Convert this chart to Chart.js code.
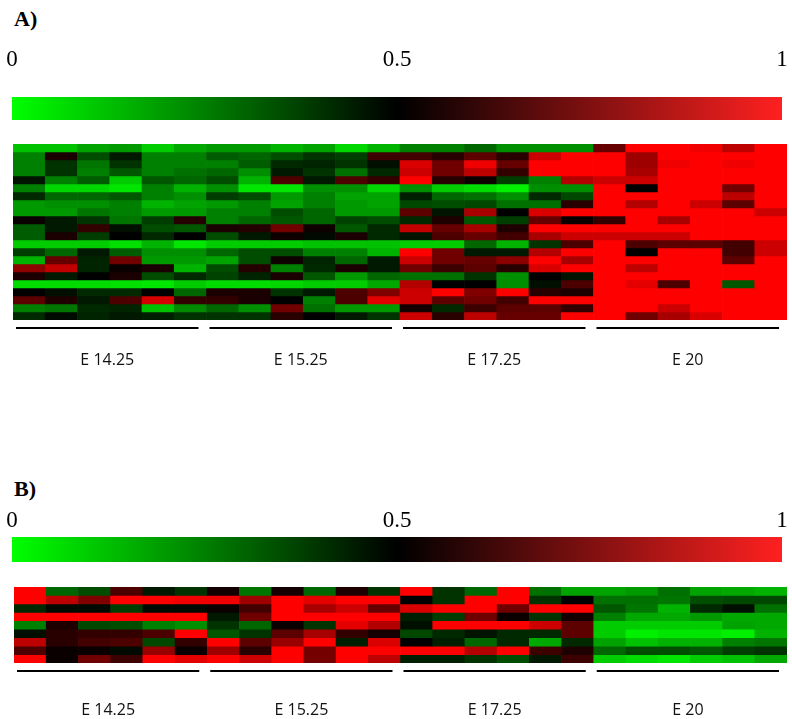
<!DOCTYPE html>
<html>
<head>
<meta charset="utf-8">
<title>Heatmaps</title>
<script src="https://cdn.jsdelivr.net/npm/chart.js@4.4.1/dist/chart.umd.min.js"></script>
<style>
  body { margin: 0; background: #fff; }
  #page { position: relative; width: 792px; height: 719px; overflow: hidden; }
  .panel-title { position: absolute; left: 14px; font: bold 22px "Liberation Serif", "Times New Roman", serif; }
  canvas { position: absolute; left: 0; }
</style>
</head>
<body>
<div id="page">
  <div class="panel-title" style="top:6px">A)</div>
  <canvas id="barA" width="792" height="105" style="top:20px"></canvas>
  <canvas id="heatA" width="792" height="240" style="top:140px"></canvas>

  <div class="panel-title" style="top:476px">B)</div>
  <canvas id="barB" width="792" height="67" style="top:500px"></canvas>
  <canvas id="heatB" width="792" height="136" style="top:583px"></canvas>
</div>
<script>
// columns = samples, 6 per embryonic stage
const columnLabels = Array.from({length: 24}, (_, i) => 'S' + (i + 1));
const groupNames = ['E 14.25', 'E 15.25', 'E 17.25', 'E 20'];
const perGroup = 6;
const scaleTicks = [0, 0.5, 1];

// panel A, one row per gene (values 0..1)
const heatA = [
  [0.12,0.12,0.18,0.2,0.1,0.17, 0.2,0.2,0.15,0.18,0.08,0.15, 0.25,0.25,0.3,0.22,0.22,0.22, 0.7,1,1,0.97,0.87,1],
  [0.25,0.55,0.35,0.45,0.25,0.25, 0.32,0.3,0.35,0.4,0.38,0.62, 0.63,0.58,0.68,0.58,0.9,1, 1,0.81,1,1,1,1],
  [0.25,0.4,0.27,0.4,0.25,0.25, 0.25,0.32,0.42,0.43,0.4,0.47, 0.93,0.72,0.97,0.7,1,1, 1,0.81,0.97,1,0.97,1],
  [0.25,0.4,0.25,0.33,0.25,0.28, 0.3,0.22,0.45,0.4,0.28,0.42, 0.9,0.72,0.87,0.6,1,1, 1,0.83,1,1,1,1],
  [0.46,0.25,0.32,0.1,0.33,0.3, 0.35,0.15,0.65,0.45,0.65,0.6, 1,0.58,0.53,0.38,0.25,0.85, 0.9,0.9,1,1,1,1],
  [0.25,0.08,0.08,0.05,0.25,0.15, 0.22,0.05,0.05,0.22,0.22,0.08, 0.22,0.1,0.07,0.03,0.22,0.22, 1,0.5,1,1,0.72,1],
  [0.42,0.3,0.3,0.33,0.25,0.22, 0.38,0.35,0.2,0.25,0.18,0.18, 0.44,0.3,0.28,0.22,0.42,0.36, 1,1,1,1,0.87,1],
  [0.2,0.22,0.22,0.25,0.15,0.18, 0.2,0.25,0.18,0.25,0.2,0.18, 0.36,0.35,0.36,0.28,0.28,0.58, 1,0.85,1,0.9,0.68,1],
  [0.2,0.2,0.27,0.25,0.2,0.2, 0.25,0.25,0.35,0.3,0.2,0.2, 0.68,0.46,0.83,0.5,0.93,1, 1,1,1,1,1,0.9],
  [0.52,0.45,0.4,0.27,0.38,0.57, 0.25,0.3,0.33,0.3,0.37,0.35, 0.42,0.56,0.33,0.38,0.7,0.52, 0.6,1,0.83,1,1,1],
  [0.32,0.45,0.6,0.47,0.35,0.33, 0.55,0.57,0.72,0.53,0.33,0.42, 0.88,0.7,0.83,0.56,1,1, 1,1,1,1,1,1],
  [0.32,0.55,0.38,0.5,0.42,0.5, 0.35,0.45,0.53,0.48,0.55,0.42, 0.46,0.65,0.7,0.63,0.83,0.9, 0.9,0.9,0.9,1,1,1],
  [0.1,0.1,0.1,0.06,0.15,0.05, 0.1,0.1,0.1,0.12,0.12,0.12, 0.1,0.1,0.3,0.15,0.4,0.65, 1,0.65,0.68,0.68,0.63,0.9],
  [0.38,0.3,0.45,0.32,0.22,0.22, 0.3,0.35,0.35,0.25,0.25,0.15, 1,0.72,0.45,0.45,0.85,1, 1,0.5,1,1,0.63,0.9],
  [0.15,0.7,0.43,0.72,0.2,0.2, 0.18,0.35,0.53,0.43,0.3,0.45, 0.9,0.72,0.7,0.77,1,0.83, 1,1,1,1,0.68,1],
  [0.78,0.88,0.43,0.52,0.55,0.15, 0.35,0.57,0.25,0.42,0.55,0.45, 0.72,0.62,0.68,0.58,0.93,1, 1,0.87,1,1,1,1],
  [0.55,0.45,0.5,0.55,0.35,0.42, 0.37,0.43,0.55,0.33,0.2,0.3, 0.28,0.28,0.4,0.22,0.5,0.46, 1,1,1,1,1,1],
  [0.07,0.07,0.07,0.06,0.05,0.1, 0.07,0.07,0.08,0.1,0.1,0.17, 0.85,0.5,0.5,0.22,0.47,0.65, 1,0.95,0.65,1,0.33,1],
  [0.5,0.47,0.42,0.42,0.5,0.3, 0.55,0.55,0.4,0.45,0.65,0.75, 0.9,1,0.75,1,0.58,0.56, 1,1,1,1,1,1],
  [0.68,0.56,0.45,0.65,0.92,0.6, 0.6,0.55,0.5,0.25,0.65,0.95, 0.9,0.68,0.72,0.63,1,1, 1,1,1,1,1,1],
  [0.25,0.27,0.42,0.43,0.12,0.23, 0.3,0.22,0.72,0.28,0.2,0.2, 0.54,0.42,0.62,0.68,0.68,0.6, 1,1,0.9,1,1,1],
  [0.42,0.48,0.43,0.45,0.44,0.4, 0.4,0.4,0.58,0.5,0.45,0.4, 0.9,0.58,0.87,0.7,0.7,1, 1,0.72,0.83,0.93,1,1]
];

// panel B
const heatB = [
  [1,0.3,0.35,0.65,0.45,0.4, 0.54,0.27,0.54,0.3,0.56,0.4, 1,0.4,0.3,1,0.28,0.18, 0.18,0.2,0.28,0.18,0.17,0.15],
  [1,0.87,0.75,1,1,0.97, 0.97,0.81,1,0.95,1,1, 0.5,0.4,1,1,0.4,0.5, 0.28,0.28,0.27,0.35,0.36,0.36],
  [0.42,0.48,0.48,0.38,0.48,0.48, 0.52,0.63,1,0.83,0.9,0.7, 0.93,1,1,0.72,1,1, 0.33,0.27,0.15,0.42,0.47,0.28],
  [1,1,1,1,1,1, 0.45,0.72,1,1,1,1, 0.44,0.38,0.72,0.52,0.4,0.54, 0.25,0.17,0.17,0.2,0.17,0.17],
  [0.25,0.56,0.36,0.35,0.25,0.22, 0.4,0.3,0.52,0.4,0.95,0.85, 0.47,1,1,1,0.9,0.68, 0.1,0.1,0.1,0.1,0.18,0.17],
  [0.47,0.58,0.6,0.6,0.65,1, 0.33,0.4,0.68,0.83,0.6,0.54, 0.36,0.42,0.46,0.42,0.42,0.68, 0.1,0.03,0.05,0.05,0.03,0.15],
  [0.87,0.58,0.63,0.65,0.36,0.6, 1,0.68,0.8,1,0.44,0.93, 0.5,0.44,0.3,0.42,0.17,0.42, 0.18,0.12,0.15,0.15,0.25,0.27],
  [0.65,0.52,0.52,0.48,0.8,0.52, 0.81,0.58,1,0.73,1,1, 1,1,0.85,1,0.62,0.56, 0.3,0.35,0.35,0.33,0.38,0.4],
  [1,0.52,0.72,0.62,1,0.95, 1,0.9,1,0.73,1,0.87, 0.44,0.44,0.4,0.35,0.45,0.62, 0.1,0.07,0.05,0.1,0.12,0.17]
];

// green (0) -> black (0.5) -> red (1)
function heatColor(v) {
  if (v < 0.5) return 'rgb(0,' + Math.round(255 * (1 - 2 * v)) + ',0)';
  return 'rgb(' + Math.round(255 * (2 * v - 1)) + ',0,0)';
}

// labelLine = line height of the tick labels in px; a taller line lifts the labels
// away from the bar without adding the horizontal padding that ticks.padding adds
function colorBar(id, labelLine, padTop) {
  const tickPad = 3;
  new Chart(document.getElementById(id), {
    type: 'bar',
    data: {
      labels: ['scale'],
      datasets: [{
        data: [[scaleTicks[0], scaleTicks[scaleTicks.length - 1]]],
        backgroundColor: (c) => {
          const area = c.chart.chartArea;
          if (!area) return '#000';
          const g = c.chart.ctx.createLinearGradient(area.left, 0, area.right, 0);
          g.addColorStop(0, '#00ff00');
          g.addColorStop(0.5, '#000000');
          g.addColorStop(1, '#ff2020');
          return g;
        },
        borderWidth: 0,
        barPercentage: 1,
        categoryPercentage: 1
      }]
    },
    options: {
      indexAxis: 'y',
      responsive: false,
      animation: false,
      layout: { padding: { left: 12, right: 10, top: padTop, bottom: 5 } },
      plugins: { legend: { display: false }, tooltip: { enabled: false } },
      scales: {
        x: {
          type: 'linear',
          position: 'top',
          min: 0,
          max: 1,
          afterBuildTicks: (axis) => { axis.ticks = scaleTicks.map(v => ({ value: v })); },
          // the bar is short, so keep the label band from being capped
          afterFit: (axis) => { axis.height = labelLine + tickPad; },
          grid: { display: false, drawTicks: false },
          border: { display: false },
          ticks: {
            padding: tickPad,
            maxRotation: 0,
            color: '#000',
            callback: (v) => String(v),
            font: { family: '"Liberation Serif", "Times New Roman", serif', size: 23, lineHeight: labelLine / 23 }
          }
        },
        y: { display: false }
      }
    }
  });
}

const groupLines = {
  id: 'groupLines',
  afterDraw(chart, args, opts) {
    const { ctx, chartArea, scales: { x } } = chart;
    const colW = (chartArea.right - chartArea.left) / columnLabels.length;
    ctx.save();
    ctx.strokeStyle = '#000';
    ctx.lineWidth = 2;
    ctx.fillStyle = '#111';
    ctx.font = '16px "Open Sans", sans-serif';
    ctx.textAlign = 'center';
    ctx.textBaseline = 'middle';
    groupNames.forEach((name, g) => {
      const first = g * perGroup;
      const last = first + perGroup - 1;
      const x0 = x.getPixelForValue(first) - colW / 2 + 3;
      const x1 = x.getPixelForValue(last) + colW / 2 - 8;
      const y = chartArea.bottom + opts.lineGap;
      ctx.beginPath();
      ctx.moveTo(x0, y);
      ctx.lineTo(x1, y);
      ctx.stroke();
      ctx.fillText(name, (x0 + x1) / 2, chartArea.bottom + opts.labelGap);
    });
    ctx.restore();
  }
};

function heatmap(id, matrix, pad, lineGap, labelGap) {
  new Chart(document.getElementById(id), {
    type: 'bar',
    data: {
      labels: columnLabels,
      datasets: matrix.map((row, r) => ({
        data: row.map(() => [r, r + 1]),
        backgroundColor: row.map(heatColor),
        borderWidth: 0,
        barPercentage: 1,
        categoryPercentage: 1,
        grouped: false
      }))
    },
    options: {
      responsive: false,
      animation: false,
      layout: { padding: pad },
      plugins: {
        legend: { display: false },
        tooltip: { enabled: false },
        groupLines: { lineGap: lineGap, labelGap: labelGap }
      },
      scales: {
        x: { display: false },
        y: { display: false, min: 0, max: matrix.length, reverse: true }
      }
    },
    plugins: [groupLines]
  });
}

colorBar('barA', 68, 6);
heatmap('heatA', heatA, { left: 13, right: 5, top: 4, bottom: 60 }, 8, 40);

colorBar('barB', 26, 8);
heatmap('heatB', heatB, { left: 14, right: 5, top: 4, bottom: 56 }, 8, 47);
</script>
</body>
</html>
